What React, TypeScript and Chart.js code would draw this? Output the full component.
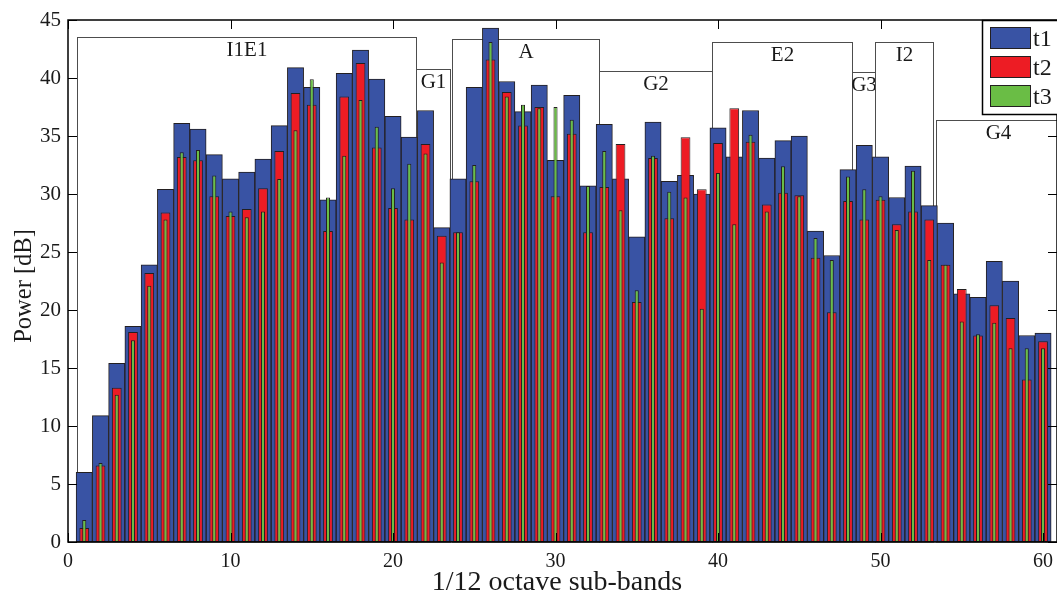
import React, { useEffect, useRef } from "react";
import { Chart, registerables } from "chart.js";

Chart.register(...registerables);

// 1/12 octave sub-band index
const subBands = [
  1, 2, 3, 4, 5, 6, 7, 8, 9, 10, 11, 12, 13, 14, 15, 16, 17, 18, 19, 20,
  21, 22, 23, 24, 25, 26, 27, 28, 29, 30, 31, 32, 33, 34, 35, 36, 37, 38, 39, 40,
  41, 42, 43, 44, 45, 46, 47, 48, 49, 50, 51, 52, 53, 54, 55, 56, 57, 58, 59, 60,
];

// Power per sub-band [dB]
const t1Power = [
  6.0, 10.9, 15.4, 18.6, 23.9, 30.4, 36.1, 35.6, 33.4, 31.3,
  31.9, 33.0, 35.9, 40.9, 39.2, 29.5, 40.4, 42.4, 39.9, 36.7,
  34.9, 37.2, 27.1, 31.3, 39.2, 44.3, 39.7, 37.1, 39.4, 32.9,
  38.5, 30.7, 36.0, 31.3, 26.3, 36.2, 31.1, 31.6, 30.0, 35.7,
  33.2, 37.2, 33.1, 34.6, 35.0, 26.8, 24.7, 32.1, 34.2, 33.2,
  29.7, 32.4, 29.0, 27.5, 21.4, 21.1, 24.2, 22.5, 17.8, 18.0,
];
const t2Power = [
  1.2, 6.6, 13.3, 18.1, 23.2, 28.4, 33.2, 32.9, 29.8, 28.1,
  28.7, 30.5, 33.7, 38.7, 37.7, 26.8, 38.4, 41.3, 34.0, 28.8,
  27.8, 34.3, 26.4, 26.7, 31.1, 41.6, 38.8, 35.9, 37.5, 29.8,
  35.2, 26.7, 30.6, 34.3, 20.7, 33.1, 27.9, 34.9, 30.4, 34.4,
  37.4, 34.5, 29.1, 30.1, 29.9, 24.5, 19.8, 29.4, 27.8, 29.5,
  27.4, 28.5, 27.8, 23.9, 21.8, 17.8, 20.4, 19.3, 14.0, 17.3,
];
const t3Power = [
  1.9, 6.8, 12.7, 17.4, 22.1, 27.8, 33.6, 33.8, 31.6, 28.5,
  28.0, 28.5, 31.3, 35.5, 39.9, 29.7, 33.3, 38.1, 35.8, 30.5,
  32.6, 33.5, 24.1, 26.7, 32.5, 43.1, 38.4, 37.7, 37.4, 37.5,
  36.4, 30.7, 33.7, 28.6, 21.7, 33.3, 30.2, 29.7, 20.1, 31.8,
  27.4, 35.1, 28.5, 32.4, 29.8, 26.2, 24.3, 31.5, 30.4, 29.8,
  26.9, 32.0, 24.3, 23.9, 19.0, 17.9, 18.9, 16.7, 16.7, 16.7,
];

const seriesNames = ["t1", "t2", "t3"];
const xTickValues = [0, 10, 20, 30, 40, 50, 60];
const yTickValues = [0, 5, 10, 15, 20, 25, 30, 35, 40, 45];

// Labelled sub-band regions
const regionNames = ["I1E1", "G1", "A", "G2", "E2", "G3", "I2", "G4"];
const regionStart = [0.55, 21.43, 23.6, 32.66, 39.63, 48.23, 49.68, 53.4];
const regionEnd = [21.43, 23.5, 32.66, 39.63, 48.23, 49.68, 53.23, 61.05];
const regionTop = [43.5, 40.8, 43.4, 40.6, 43.1, 40.5, 43.1, 36.4];

const BLUE = "#3953a4";
const RED = "#ed1c24";
const GREEN = "#6abd45";
const EDGE = "#231f20";
const SERIF = '"Liberation Serif", "Times New Roman", serif';

const regionPlugin = {
  id: "regions",
  beforeDatasetsDraw(chart: any) {
    const { ctx, scales } = chart;
    const x = scales.x;
    const y = scales.y;
    ctx.save();
    ctx.font = `21px ${SERIF}`;
    ctx.textAlign = "center";
    ctx.textBaseline = "alphabetic";
    const b = y.getPixelForValue(0);
    regionNames.forEach((name, i) => {
      const l = Math.round(x.getPixelForValue(regionStart[i])) + 0.5;
      const r = Math.round(x.getPixelForValue(regionEnd[i])) + 0.5;
      const t = Math.round(y.getPixelForValue(regionTop[i])) + 0.5;
      ctx.fillStyle = "#ffffff";
      ctx.fillRect(l, t, r - l, b - t);
      ctx.strokeStyle = "#4d4d4d";
      ctx.lineWidth = 1;
      ctx.strokeRect(l, t, r - l, b - t);
      ctx.fillStyle = "#1a1a1a";
      ctx.fillText(name, (l + r) / 2, t + 18);
    });
    ctx.restore();
  },
};

const framePlugin = {
  id: "frame",
  afterDatasetsDraw(chart: any) {
    const { ctx, chartArea, scales } = chart;
    const { left, right, top, bottom } = chartArea;
    ctx.save();
    ctx.strokeStyle = "#000000";
    ctx.lineWidth = 1.5;
    ctx.strokeRect(left, top, right - left, bottom - top);
    ctx.lineWidth = 1;
    ctx.beginPath();
    yTickValues.forEach((v) => {
      const py = Math.round(scales.y.getPixelForValue(v)) + 0.5;
      ctx.moveTo(left, py);
      ctx.lineTo(left + 9, py);
      ctx.moveTo(right, py);
      ctx.lineTo(right - 9, py);
    });
    xTickValues.forEach((v) => {
      const px = Math.round(scales.x.getPixelForValue(v)) + 0.5;
      ctx.moveTo(px, top);
      ctx.lineTo(px, top + 9);
      ctx.moveTo(px, bottom);
      ctx.lineTo(px, bottom - 9);
    });
    ctx.stroke();
    ctx.restore();
  },
};

const overlayPlugin = {
  id: "overlay",
  afterDraw(chart: any) {
    const { ctx } = chart;
    ctx.save();
    // axis titles
    ctx.fillStyle = "#1a1a1a";
    ctx.font = `28px ${SERIF}`;
    ctx.textAlign = "center";
    ctx.textBaseline = "alphabetic";
    ctx.fillText("1/12 octave sub-bands", 557, 590);
    ctx.font = `24.5px ${SERIF}`;
    ctx.translate(25, 286);
    ctx.rotate(-Math.PI / 2);
    ctx.textBaseline = "middle";
    ctx.fillText("Power [dB]", 0, 0);
    ctx.restore();

    // legend
    ctx.save();
    const lx = 982.5;
    const ly = 20.5;
    ctx.fillStyle = "#ffffff";
    ctx.fillRect(lx, ly, 90, 94);
    ctx.strokeStyle = "#000000";
    ctx.lineWidth = 1.5;
    ctx.strokeRect(lx, ly, 90, 94);
    const colors = [BLUE, RED, GREEN];
    ctx.font = `24px ${SERIF}`;
    ctx.textAlign = "left";
    ctx.textBaseline = "alphabetic";
    seriesNames.forEach((name, i) => {
      const py = 27.5 + i * 29;
      ctx.fillStyle = colors[i];
      ctx.fillRect(990.5, py, 40, 21);
      ctx.strokeStyle = EDGE;
      ctx.lineWidth = 1;
      ctx.strokeRect(990.5, py, 40, 21);
      ctx.fillStyle = "#1a1a1a";
      ctx.fillText(name, 1033, py + 18);
    });
    ctx.restore();
  },
};

function makeDataset(label: string, values: number[], color: string, width: number, order: number) {
  return {
    label,
    data: subBands.map((b, i) => ({ x: b, y: values[i] })),
    backgroundColor: color,
    borderColor: EDGE,
    borderWidth: 1,
    borderSkipped: false,
    grouped: false,
    categoryPercentage: 1,
    barPercentage: width,
    order,
  };
}

export default function App() {
  const canvasRef = useRef<HTMLCanvasElement | null>(null);

  useEffect(() => {
    const canvas = canvasRef.current;
    if (!canvas) return;
    const tickFont = { family: SERIF, size: 20 };
    const chart = new Chart(canvas, {
      type: "bar",
      data: {
        datasets: [
          makeDataset(seriesNames[0], t1Power, BLUE, 1.0, 3),
          makeDataset(seriesNames[1], t2Power, RED, 0.6, 2),
          makeDataset(seriesNames[2], t3Power, GREEN, 0.25, 1),
        ] as any,
      },
      options: {
        responsive: false,
        animation: false,
        layout: { padding: { left: 0, top: 20, right: 5, bottom: 0 } },
        plugins: {
          legend: { display: false },
          tooltip: { enabled: false },
        },
        scales: {
          x: {
            type: "linear",
            min: 0,
            max: 60.86,
            offset: false,
            grid: { display: false, drawTicks: false },
            border: { display: false },
            ticks: {
              includeBounds: false,
              autoSkip: false,
              maxRotation: 0,
              padding: 8,
              color: "#1a1a1a",
              font: tickFont,
            },
            afterBuildTicks: (axis: any) => {
              axis.ticks = xTickValues.map((v) => ({ value: v }));
            },
            afterFit: (axis: any) => {
              axis.height = 52;
            },
          },
          y: {
            type: "linear",
            min: 0,
            max: 45,
            grid: { display: false, drawTicks: false },
            border: { display: false },
            ticks: {
              stepSize: 5,
              padding: 7,
              color: "#1a1a1a",
              font: { family: SERIF, size: 21 },
            },
            afterBuildTicks: (axis: any) => {
              axis.ticks = yTickValues.map((v) => ({ value: v }));
            },
            afterFit: (axis: any) => {
              axis.width = 68;
            },
          },
        },
      } as any,
      plugins: [regionPlugin, framePlugin, overlayPlugin],
    });
    return () => chart.destroy();
  }, []);

  return (
    <div
      style={{
        position: "fixed",
        left: 0,
        top: 0,
        width: 1057,
        height: 594,
        overflow: "hidden",
        background: "#ffffff",
      }}
    >
      <canvas ref={canvasRef} width={1062} height={594} style={{ display: "block" }} />
    </div>
  );
}
